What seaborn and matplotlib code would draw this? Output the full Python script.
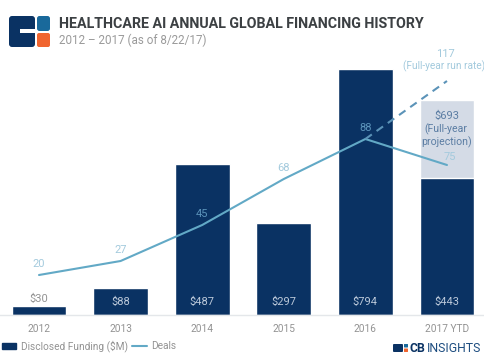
import numpy as np
import pandas as pd
import matplotlib
matplotlib.use('Agg')
import matplotlib.pyplot as plt
from matplotlib.patches import FancyBboxPatch, Rectangle
from matplotlib.lines import Line2D
from matplotlib.transforms import IdentityTransform
import seaborn as sns

# data
years = ['2012', '2013', '2014', '2015', '2016', '2017 YTD']
funding = [30, 88, 487, 297, 794, 443]
projection = [0, 0, 0, 0, 0, 693]
deals = [20, 27, 45, 68, 88, 75]
run_rate = [88, 117]
funding_labels = ['$30', '$88', '$487', '$297', '$794', '$443']

NAVY = '#0a3263'
PALE = '#d4dbe6'
LINE = '#62a9c6'
LABEL = '#a3cadd'
GREY = '#939393'

sns.set_theme(style='white')
plt.rcParams['font.family'] = ['Roboto', 'DejaVu Sans']

W, H = 485, 360
fig = plt.figure(figsize=(W / 100, H / 100), dpi=100, facecolor='white')
# axes run the full width, baseline at y=315 and top at y=60 (pixels)
ax = fig.add_axes([0, 1 - 315 / H, 1, 255 / H], facecolor='none')

df = pd.DataFrame({'year': years, 'funding': funding, 'projection': projection})
sns.barplot(data=df, x='year', y='projection', order=years, color=PALE, width=0.67,
            saturation=1, ax=ax)
sns.barplot(data=df, x='year', y='funding', order=years, color=NAVY, width=0.67,
            saturation=1, ax=ax)
ax.set_xlim(-0.478, 5.466)
ax.set_ylim(0, 822)
ax.set_xlabel('')
ax.set_ylabel('')
ax.set_yticks([])
ax.tick_params(axis='x', length=0, pad=6.5, labelsize=7.3, labelcolor=GREY)
for side in ['top', 'left', 'right']:
    ax.spines[side].set_visible(False)
ax.spines['bottom'].set_color('#e4e7ea')
ax.spines['bottom'].set_linewidth(1)

# deals on their own scale
ax2 = ax.twinx()
pos = np.arange(len(years))
sns.lineplot(x=pos, y=deals, color=LINE, linewidth=1.5, ax=ax2, legend=False)
sns.lineplot(x=pos[-2:], y=run_rate, color='#5b93b8', linewidth=1.5, ax=ax2, legend=False,
             linestyle=(0, (3.8, 2.8)))
ax2.set_xlim(-0.478, 5.466)
ax2.set_ylim(0, 127.5)
ax2.set_yticks([])
ax2.set_ylabel('')
for side in ['top', 'left', 'right', 'bottom']:
    ax2.spines[side].set_visible(False)

# bar value labels
for i, (v, lab) in enumerate(zip(funding, funding_labels)):
    if v < 50:
        ax2.annotate(lab, (i, v * 127.5 / 822), xytext=(0, 1), textcoords='offset points',
                     ha='center', va='bottom', fontsize=8, color=GREY)
    else:
        ax2.annotate(lab, (i, 0), xytext=(0, 6), textcoords='offset points',
                     ha='center', va='bottom', fontsize=8, color='#bcc9da')

# deal labels: dimmer where they sit on a navy bar
for i, d in enumerate(deals):
    on_bar = i in (2, 4)
    xoff = 2 if i == 5 else 0
    yoff = 2.2 if i == 5 else 4.5
    ax2.annotate(str(d), (i, d), xytext=(xoff, yoff), textcoords='offset points',
                 ha='center', va='bottom', fontsize=8,
                 color='#5c94bb' if on_bar else LABEL)
ax2.annotate('117', (5, run_rate[1]), xytext=(-1, 16), textcoords='offset points',
             ha='center', va='bottom', fontsize=8, color=LABEL)
ax2.annotate('(Full-year run rate)', (5, run_rate[1]), xytext=(-2, 6.5), textcoords='offset points',
             ha='center', va='bottom', fontsize=7.3, color=LABEL)
ax.annotate('$693', (5, projection[5]), xytext=(0, -7.8), textcoords='offset points',
            ha='center', va='top', fontsize=8, color='#5b7da3')
ax.annotate('(Full-year\nprojection)', (5, projection[5]), xytext=(-0.5, -17), textcoords='offset points',
            ha='center', va='top', fontsize=7.6, color='#5b7da3', linespacing=1.2)

# legend
handles = [Rectangle((0, 0), 1, 1, color=NAVY), Line2D([0], [0], color=LINE, linewidth=1.5)]
fig.legend(handles, ['Disclosed Funding ($M)', 'Deals'], loc='center left',
           bbox_to_anchor=(-0.006, 1 - 346 / H), ncol=2, frameon=False, fontsize=7.3,
           labelcolor=GREY, handlelength=1.4, handleheight=0.5, handletextpad=0.45,
           columnspacing=0.45, borderpad=0)


def px(x, y):
    return x / W, 1 - y / H


# logos, given in picture pixels
def box(x, y, w, h, color, r=2.0):
    fig.add_artist(FancyBboxPatch((x, H - y - h), w, h,
                                  boxstyle=f'round,pad=0,rounding_size={r}',
                                  facecolor=color, edgecolor='none',
                                  transform=IdentityTransform()))


box(9, 16, 26, 31, NAVY, r=3)
box(20, 29, 16, 4, 'white', r=0.1)
box(37, 16, 13, 15, '#19699b', r=2.5)
box(37, 33, 13, 14, '#f0652f', r=2)

tx, ty = px(59, 23.5)
fig.text(tx, ty, 'HEALTHCARE AI ANNUAL GLOBAL FINANCING HISTORY',
         fontweight='bold', fontsize=10.25, color='#3c4043', va='center', ha='left')
tx, ty = px(59, 40)
fig.text(tx, ty, '2012 \u2013 2017 (as of 8/22/17)', fontsize=8.4, color='#9a9a9a', va='center', ha='left')

# footer logo
box(393, 344, 10, 8, NAVY, r=1)
box(404, 344, 4, 3.5, '#19699b', r=0.5)
box(404, 348.5, 4, 3.5, '#f0652f', r=0.5)
tx, ty = px(410, 348)
fig.text(tx, ty, 'CB', fontweight='bold', fontsize=8.8, color=NAVY, va='center', ha='left')
tx, ty = px(427, 348)
fig.text(tx, ty, 'INSIGHTS', fontsize=8.8, color='#1d4d80', va='center', ha='left')

plt.savefig('out.png', dpi=100)
